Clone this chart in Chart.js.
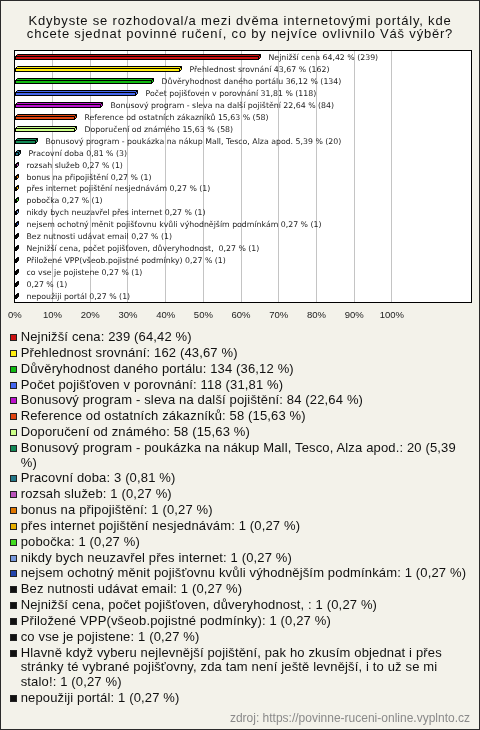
<!DOCTYPE html>
<html>
<head>
<meta charset="utf-8">
<script src="https://cdn.jsdelivr.net/npm/chart.js@4.4.1/dist/chart.umd.min.js"></script>
<style>
  html, body { margin: 0; padding: 0; }
  body { width: 480px; height: 730px; overflow: hidden; }
  #frame {
    position: relative; width: 478px; height: 728px;
    border: 1px solid #2a2a2a; background: #f3f2ea;
    font-family: "Liberation Sans", Arial, sans-serif; color: #111;
  }
  #chart { position: absolute; left: -1px; top: -1px; }
  #title {
    position: absolute; left: 0; top: 12.7px; width: 478px; text-align: center;
    font-size: 13px; line-height: 13.5px; letter-spacing: 0.8px; color: #111;
  }
  #legend {
    position: absolute; left: 9px; top: 329px; width: 461px;
    font-size: 13px; line-height: 14.6px; letter-spacing: 0.15px;
  }
  .item { display: flex; align-items: flex-start; margin-bottom: 1.25px; }
  .sw { flex: 0 0 auto; width: 5px; height: 5px; border: 1px solid #222; margin-top: 4px; margin-right: 3.7px; }
  .tx { flex: 1 1 auto; }
  #src {
    position: absolute; right: 9px; top: 710px; font-size: 12px; color: #8a8a8a;
  }
</style>
</head>
<body>
<div id="frame">
  <canvas id="chart" width="480" height="330"></canvas>
  <div id="title"></div>
  <div id="legend"></div>
  <div id="src">zdroj: https://povinne-ruceni-online.vyplnto.cz</div>
</div>
<script>
const titleLines = [
  "Kdybyste se rozhodoval/a mezi dvěma internetovými portály, kde",
  "chcete sjednat povinné ručení, co by nejvíce ovlivnilo Váš výběr?"
];
const categories = [
  "Nejnižší cena",
  "Přehlednost srovnání",
  "Důvěryhodnost daného portálu",
  "Počet pojišťoven v porovnání",
  "Bonusový program - sleva na další pojištění",
  "Reference od ostatních zákazníků",
  "Doporučení od známého",
  "Bonusový program - poukázka na nákup Mall, Tesco, Alza apod.",
  "Pracovní doba",
  "rozsah služeb",
  "bonus na připojištění",
  "přes internet pojištění nesjednávám",
  "pobočka",
  "nikdy bych neuzavřel přes internet",
  "nejsem ochotný měnit pojišťovnu kvůli výhodnějším podmínkám",
  "Bez nutnosti udávat email",
  "Nejnižší cena, počet pojišťoven, důveryhodnost, ",
  "Přiložené VPP(všeob.pojistné podmínky)",
  "co vse je pojistene",
  "Hlavně když vyberu nejlevnější pojištění, pak ho zkusím objednat i přes stránky té vybrané pojišťovny, zda tam není ještě levnější, i to už se mi stalo!",
  "nepoužiji portál"
];
const counts = [239, 162, 134, 118, 84, 58, 58, 20, 3, 1, 1, 1, 1, 1, 1, 1, 1, 1, 1, 1, 1];
const percents = [64.42, 43.67, 36.12, 31.81, 22.64, 15.63, 15.63, 5.39, 0.81, 0.27, 0.27, 0.27, 0.27, 0.27, 0.27, 0.27, 0.27, 0.27, 0.27, 0.27, 0.27];
const colors = [
  "#cc1111", "#ffee11", "#11bb11", "#4466ee", "#bb11cc", "#e04410", "#ccff88",
  "#118855", "#227788", "#bb55bb", "#e07700", "#e8b000", "#44dd22", "#7799dd",
  "#2244aa", "#111111", "#111111", "#111111", "#111111", "#111111", "#111111"
];
const tickValues = [0, 10, 20, 30, 40, 50, 60, 70, 80, 90, 100];

function fmt(v) { return v.toFixed(2).replace('.', ','); }
function barLabel(i) {
  const name = categories[i].length > 80 ? "" : categories[i] + " ";
  return name + fmt(percents[i]) + " % (" + counts[i] + ")";
}

document.getElementById('title').innerHTML = titleLines.map(t => t.replace(/&/g, '&amp;').replace(/</g, '&lt;')).join('<br>');

const plotPlugin = {
  id: 'plotBox',
  beforeDraw(chart) {
    const a = chart.chartArea, c = chart.ctx;
    c.save();
    c.fillStyle = '#ffffff';
    c.fillRect(a.left, a.top, a.right - a.left, a.bottom - a.top);
    c.restore();
  },
  afterDatasetsDraw(chart) {
    const c = chart.ctx, a = chart.chartArea;
    const meta = chart.getDatasetMeta(0);
    const d = 2;
    c.save();
    c.lineWidth = 1;
    c.strokeStyle = '#000';
    meta.data.forEach((el, i) => {
      const x0 = Math.round(el.base) + 0.5;
      const x1 = Math.max(Math.round(el.x) + 0.5, x0 + 1);
      const ft = Math.round(el.y) - 1 + 0.5;
      const fb = ft + 3;
      const col = colors[i];
      c.fillStyle = col;
      c.fillRect(x0, ft, x1 - x0, fb - ft);
      c.strokeRect(x0, ft, x1 - x0, fb - ft);
      c.beginPath();
      c.moveTo(x0, ft); c.lineTo(x0 + d, ft - d); c.lineTo(x1 + d, ft - d); c.lineTo(x1, ft); c.closePath();
      c.fill(); c.stroke();
      c.beginPath();
      c.moveTo(x1, ft); c.lineTo(x1 + d, ft - d); c.lineTo(x1 + d, fb - d); c.lineTo(x1, fb); c.closePath();
      c.fill(); c.stroke();
      c.fillStyle = '#222';
      c.font = '7.8px "DejaVu Sans", Verdana, sans-serif';
      c.textBaseline = 'middle';
      c.textAlign = 'left';
      c.fillText(barLabel(i), x1 + d + 8, Math.round(el.y) + 0.5);
    });
    c.strokeStyle = '#000';
    c.strokeRect(Math.round(a.left) - 0.5, Math.round(a.top) - 0.5, Math.round(a.right - a.left) + 1, Math.round(a.bottom - a.top) + 1);
    c.restore();
  }
};

new Chart(document.getElementById('chart'), {
  type: 'bar',
  data: {
    labels: categories,
    datasets: [{
      data: percents,
      backgroundColor: 'rgba(0,0,0,0)',
      borderWidth: 0,
      barThickness: 4
    }]
  },
  options: {
    indexAxis: 'y',
    responsive: false,
    animation: false,
    events: [],
    layout: { padding: { left: 12, right: 9, top: 51, bottom: 0 } },
    plugins: {
      legend: { display: false },
      tooltip: { enabled: false },
      title: { display: false }
    },
    scales: {
      x: {
        min: 0, max: 121,
        afterBuildTicks(s) { s.ticks = tickValues.map(v => ({ value: v })); },
        afterFit(s) { s.height = 28; },
        ticks: {
          callback: (v) => v + '%',
          color: '#222',
          font: { family: '"Liberation Sans", Arial, sans-serif', size: 9.5 },
          padding: 8,
          maxRotation: 0,
          autoSkip: false
        },
        grid: { color: '#c4c4c4', drawTicks: false, lineWidth: 1 },
        border: { display: false }
      },
      y: {
        display: false,
        grid: { display: false }
      }
    }
  },
  plugins: [plotPlugin]
});

const leg = document.getElementById('legend');
categories.forEach((name, i) => {
  const it = document.createElement('div');
  it.className = 'item';
  const sw = document.createElement('span');
  sw.className = 'sw';
  sw.style.background = colors[i];
  const tx = document.createElement('span');
  tx.className = 'tx';
  tx.textContent = name + ": " + counts[i] + " (" + fmt(percents[i]) + " %)";
  it.appendChild(sw); it.appendChild(tx);
  leg.appendChild(it);
});
</script>
</body>
</html>
